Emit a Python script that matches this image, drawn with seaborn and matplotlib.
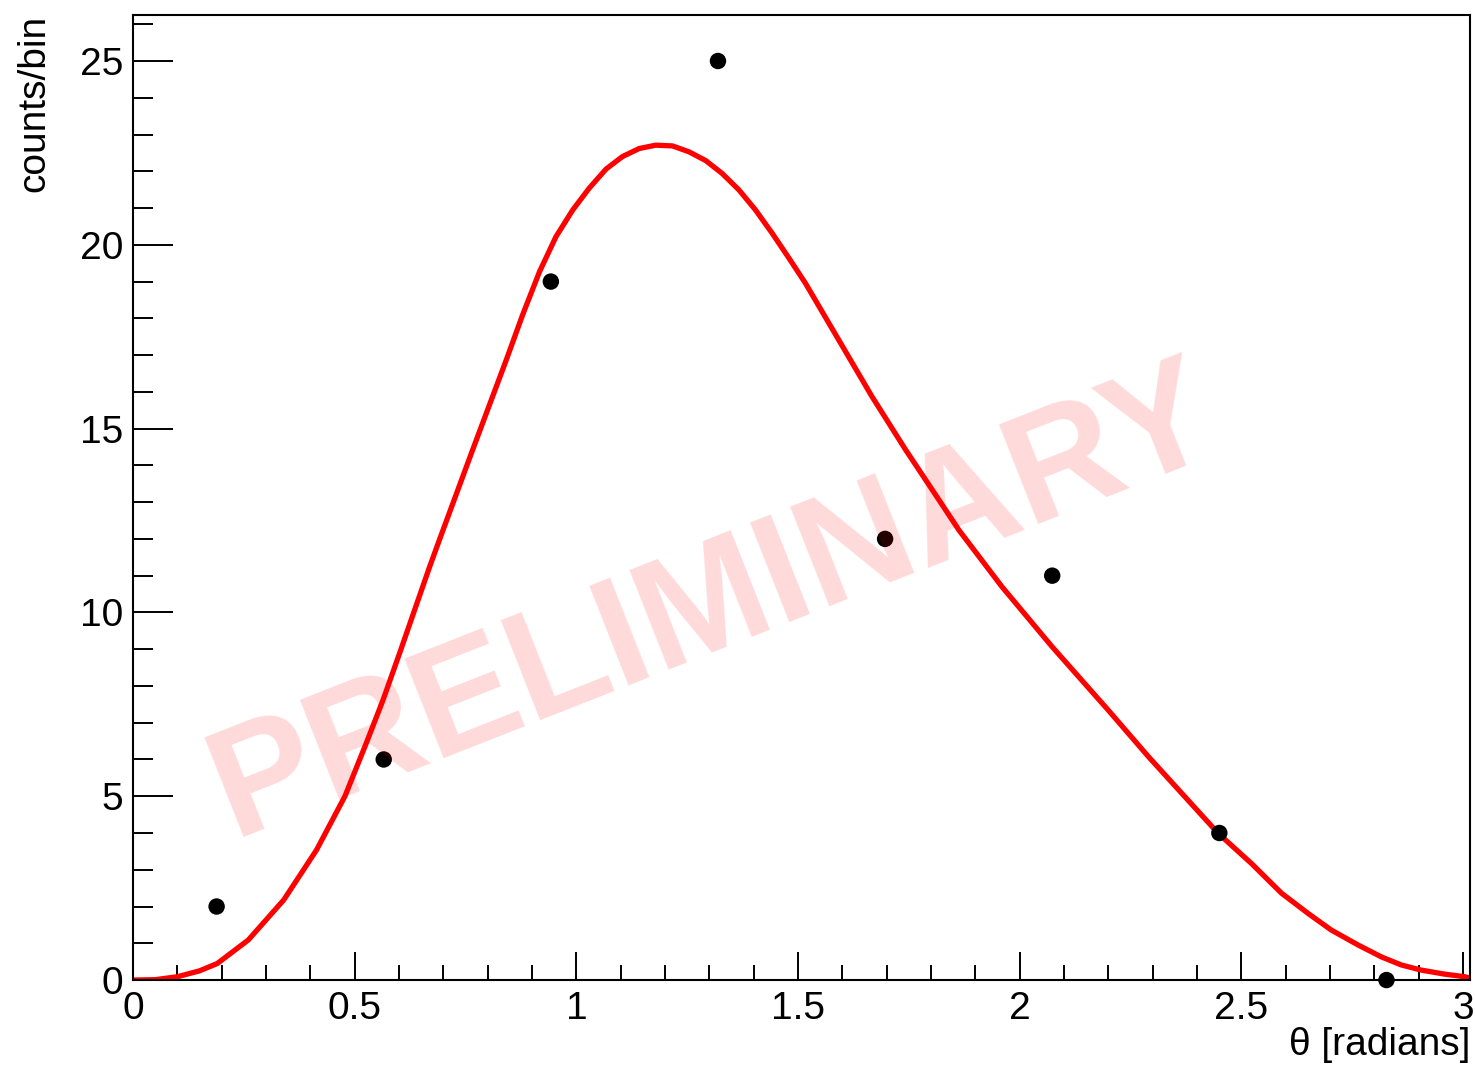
import matplotlib
matplotlib.use("Agg")
import matplotlib.pyplot as plt
from matplotlib.ticker import MultipleLocator
import seaborn as sns
import pandas as pd

# binned data (bin centres, counts)
theta_bins = [0.1885, 0.5655, 0.9425, 1.3195, 1.6965, 2.0735, 2.4505, 2.8275]
counts = [2, 6, 19, 25, 12, 11, 4, 0]

# fitted curve
fit_theta = [0.0, 0.05, 0.10, 0.15, 0.19, 0.26, 0.34, 0.414, 0.478, 0.526,
             0.564, 0.601, 0.669, 0.691, 0.766, 0.842, 0.879, 0.917, 0.954,
             0.992, 1.029, 1.067, 1.104, 1.142, 1.179, 1.217, 1.254, 1.292,
             1.329, 1.367, 1.404, 1.442, 1.480, 1.517, 1.592, 1.667, 1.743,
             1.818, 1.863, 1.960, 2.073, 2.200, 2.291, 2.448, 2.523, 2.591,
             2.651, 2.703, 2.764, 2.816, 2.861, 2.906, 2.959, 3.004, 3.016]
fit_counts = [0.0, 0.01, 0.09, 0.25, 0.45, 1.09, 2.18, 3.54, 5.00, 6.44,
              7.62, 8.88, 11.24, 11.97, 14.42, 16.87, 18.10, 19.27, 20.22,
              20.95, 21.54, 22.06, 22.40, 22.62, 22.71, 22.69, 22.53, 22.29,
              21.94, 21.49, 20.95, 20.31, 19.63, 18.95, 17.41, 15.87, 14.42,
              13.06, 12.24, 10.70, 9.07, 7.34, 6.07, 3.99, 3.17, 2.36,
              1.81, 1.36, 0.95, 0.63, 0.41, 0.27, 0.16, 0.09, 0.05]

x_ticks = [0, 0.5, 1, 1.5, 2, 2.5, 3]
x_tick_labels = ["0", "0.5", "1", "1.5", "2", "2.5", "3"]
y_ticks = [0, 5, 10, 15, 20, 25]

sns.set_style("white")
plt.rcParams["font.family"] = ["Liberation Sans", "DejaVu Sans"]
plt.rcParams["text.color"] = "black"
plt.rcParams["axes.labelcolor"] = "black"

df_pts = pd.DataFrame({"theta": theta_bins, "counts": counts})
df_fit = pd.DataFrame({"theta": fit_theta, "counts": fit_counts})

fig = plt.figure(figsize=(14.75, 10.67), dpi=100)
ax = fig.add_axes([0.0902, 0.0815, 0.9064, 0.9044])

sns.lineplot(data=df_fit, x="theta", y="counts", sort=False, estimator=None,
             color="red", linewidth=3.8, ax=ax, zorder=2)
sns.scatterplot(data=df_pts, x="theta", y="counts", color="black", s=140,
                edgecolor="none", ax=ax, zorder=3, clip_on=False)

ax.set_xlim(0, 3.0159)
ax.set_ylim(0, 26.25)

ax.set_xticks(x_ticks)
ax.set_xticklabels(x_tick_labels)
ax.set_yticks(y_ticks)
ax.xaxis.set_minor_locator(MultipleLocator(0.1))
ax.yaxis.set_minor_locator(MultipleLocator(1))

ax.tick_params(axis="both", which="both", direction="in", width=1.4,
               color="black", labelcolor="black", bottom=True, left=True,
               top=False, right=False, labelsize=28)
ax.tick_params(axis="x", which="major", length=20, pad=8)
ax.tick_params(axis="x", which="minor", length=11)
ax.tick_params(axis="y", which="major", length=29, pad=7)
ax.tick_params(axis="y", which="minor", length=14.5)

for sp in ax.spines.values():
    sp.set_visible(True)
    sp.set_color("black")
    sp.set_linewidth(1.5)

ax.set_xlabel("θ [radians]", fontsize=28, ha="right", va="top")
ax.xaxis.set_label_coords(1.0, -0.049)
ax.set_ylabel("counts/bin", loc="top", fontsize=28, labelpad=20)

# watermark on top
fig.text(0.1580, 0.2150, "PRELIMINARY", fontsize=112, fontweight="bold",
         color="red", alpha=0.15, rotation=21.5, rotation_mode="anchor",
         ha="left", va="baseline", zorder=10)

fig.savefig("out.png", dpi=100)
